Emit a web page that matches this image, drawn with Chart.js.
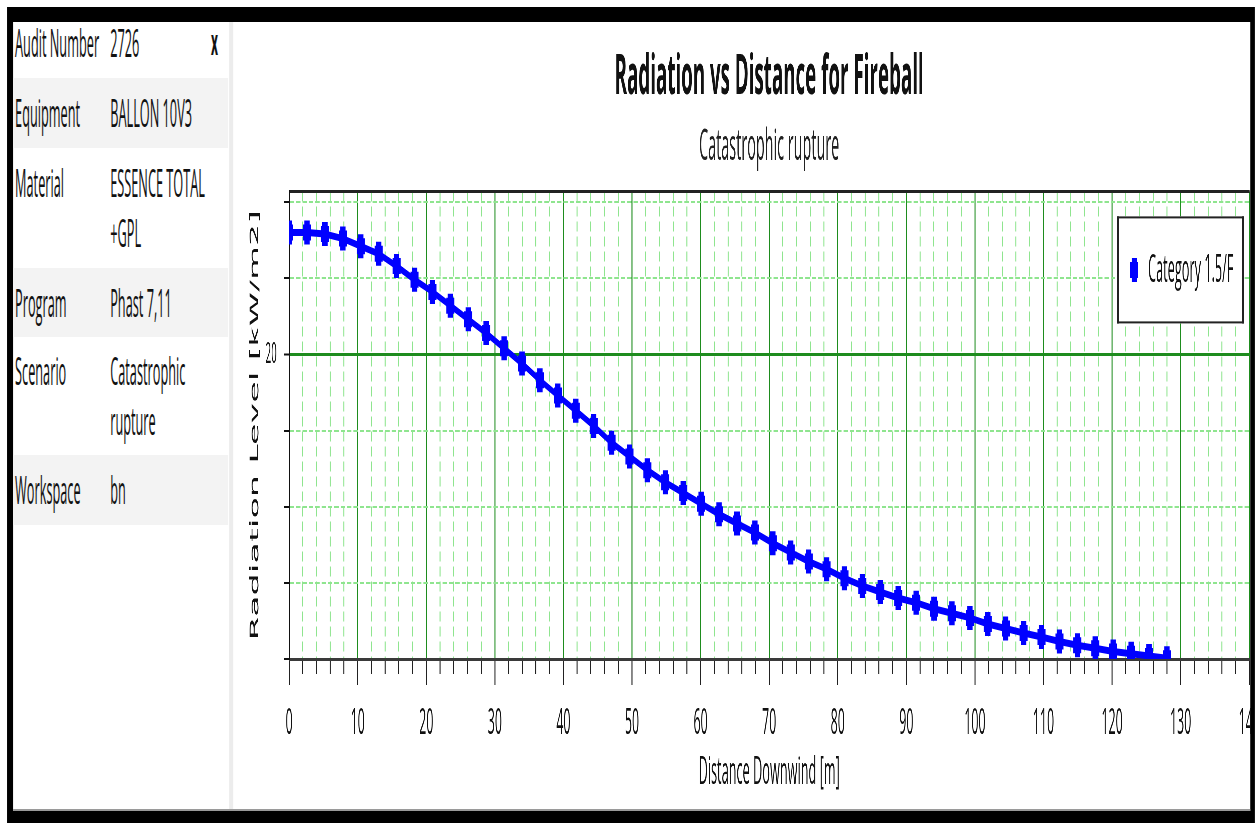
<!DOCTYPE html>
<html>
<head>
<meta charset="utf-8">
<title>Radiation vs Distance for Fireball</title>
<script src="https://cdn.jsdelivr.net/npm/chart.js@4.4.1/dist/chart.umd.min.js"></script>
<style>
  html, body { margin: 0; padding: 0; background: #fff; overflow: hidden; }
  /* the whole screenshot is horizontally squeezed, so lay out wide and squeeze */
  #page { position: absolute; left: 0; top: 0; width: 3746px; height: 823px;
          transform: scaleX(0.335); transform-origin: 0 0;
          font-family: "Open Sans", sans-serif; color: #111; }
  #frame { position: absolute; left: 21px; top: 7px; right: 0; bottom: 0; background: #000; }
  #inner { position: absolute; left: 39px; top: 22px; width: 3693px; height: 787px;
           background: #fff; border-bottom: 2px solid #9a9a9a; overflow: hidden; }
  .row { position: absolute; left: 0; width: 642px; background: #f3f3f3; }
  .txt { position: absolute; font-size: 38px; line-height: 50px; white-space: nowrap; }
  .lbl { left: 6px; }
  .val { left: 290px; }
  #close { left: 591px; font-weight: bold; font-size: 36px; }
  #sep { position: absolute; left: 645px; top: 0; width: 12px; height: 100%; background: #ececec; }
  #chartBox { position: absolute; left: 654px; top: 0; width: 3096px; height: 787px; }
</style>
</head>
<body>
<div id="page">
  <div id="frame"></div>
  <div id="inner">
    <div class="row" style="top:56px;height:70px"></div>
    <div class="row" style="top:246px;height:69px"></div>
    <div class="row" style="top:433px;height:70px"></div>

    <div class="txt lbl" style="top:-5px">Audit Number</div>
    <div class="txt val" style="top:-5px">2726</div>
    <div class="txt" id="close" style="top:-5px">x</div>

    <div class="txt lbl" style="top:65px">Equipment</div>
    <div class="txt val" style="top:65px">BALLON 10V3</div>

    <div class="txt lbl" style="top:135px">Material</div>
    <div class="txt val" style="top:135px">ESSENCE TOTAL<br>+GPL</div>

    <div class="txt lbl" style="top:255px">Program</div>
    <div class="txt val" style="top:255px">Phast 7,11</div>

    <div class="txt lbl" style="top:323px">Scenario</div>
    <div class="txt val" style="top:323px">Catastrophic<br>rupture</div>

    <div class="txt lbl" style="top:442px">Workspace</div>
    <div class="txt val" style="top:442px">bn</div>

    <div id="sep"></div>
    <div id="chartBox"><canvas id="chart"></canvas></div>
  </div>
</div>

<script>
// distance downwind [m]
const distance = [0, 2.61, 5.22, 7.84, 10.45, 13.06, 15.67, 18.29, 20.9, 23.51,
  26.12, 28.73, 31.35, 33.96, 36.57, 39.18, 41.8, 44.41, 47.02, 49.63,
  52.24, 54.86, 57.47, 60.08, 62.69, 65.31, 67.92, 70.53, 73.14, 75.76,
  78.37, 80.98, 83.59, 86.2, 88.82, 91.43, 94.04, 96.65, 99.27, 101.88,
  104.49, 107.1, 109.71, 112.33, 114.94, 117.55, 120.16, 122.78, 125.39, 128];

// radiation level [kW/m2]
const radiation = [28.0, 28.0, 27.9, 27.6, 27.1, 26.6, 25.8, 24.9, 24.1, 23.2,
  22.3, 21.4, 20.4, 19.4, 18.3, 17.3, 16.3, 15.3, 14.2, 13.3,
  12.4, 11.6, 10.9, 10.2, 9.5, 8.9, 8.3, 7.6, 7.0, 6.4,
  5.9, 5.3, 4.8, 4.4, 4.0, 3.7, 3.3, 3.0, 2.7, 2.3,
  2.0, 1.7, 1.45, 1.15, 0.9, 0.7, 0.5, 0.35, 0.2, 0.05];

const seriesName = 'Category 1.5/F';
const xLabelStep = 10;   // labelled x ticks
const yLabels = [20];    // only labelled y tick

const green = '#1e8c1e';
const lightGreen = '#8fe58f';

const legendBox = {
  id: 'legendBox',
  afterDraw(chart) {
    const { ctx, chartArea } = chart;
    const ds = chart.data.datasets[0];
    const w = 379, h = 107;
    const x = chartArea.right - 15 - w;
    const y = chartArea.top + 25;
    ctx.save();
    ctx.fillStyle = '#fff';
    ctx.fillRect(x, y, w, h);
    ctx.fillStyle = '#222';
    ctx.fillRect(x, y, w, 2);
    ctx.fillRect(x, y + h - 2, w, 2);
    ctx.fillRect(x, y, 6, h);
    ctx.fillRect(x + w - 6, y, 6, h);
    ctx.strokeStyle = ds.pointBorderColor;
    ctx.lineWidth = ds.pointBorderWidth;
    Chart.helpers.drawPoint(ctx, {
      pointStyle: ds.pointStyle, radius: ds.pointRadius,
      borderWidth: ds.pointBorderWidth, rotation: 0
    }, x + 51, y + h / 2);
    ctx.fillStyle = '#111';
    ctx.font = '38px "Open Sans"';
    ctx.textBaseline = 'middle';
    ctx.fillText(ds.label, x + 92, y + h / 2 + 1);
    ctx.restore();
  }
};

new Chart(document.getElementById('chart'), {
  type: 'line',
  data: {
    datasets: [{
      label: seriesName,
      data: distance.map((d, i) => ({ x: d, y: radiation[i] })),
      borderColor: '#0000ff',
      backgroundColor: '#0000ff',
      borderWidth: 7,
      tension: 0,
      pointStyle: 'cross',
      pointRadius: 12,
      pointBorderWidth: 16,
      pointBorderColor: '#0000ff'
    }]
  },
  options: {
    responsive: true,
    maintainAspectRatio: false,
    animation: false,
    layout: { padding: { left: 0, right: 60, top: 0, bottom: 0 } },
    plugins: {
      legend: { display: false },
      tooltip: { enabled: false },
      title: {
        display: true,
        fullSize: false,
        text: 'Radiation vs Distance for Fireball',
        color: '#111',
        font: { family: 'Open Sans', size: 56, weight: 'bold' },
        padding: { top: 22, bottom: 0 }
      },
      subtitle: {
        display: true,
        fullSize: false,
        text: 'Catastrophic rupture',
        color: '#222',
        font: { family: 'Open Sans', size: 43 },
        padding: { top: 11, bottom: 0 }
      }
    },
    scales: {
      x: {
        type: 'linear',
        position: 'bottom',
        min: 0,
        max: 140,
        afterFit: s => { s.height = 150; },
        border: {
          color: '#3a3a3a',
          width: 3,
          dash: c => (c.tick && c.tick.value % xLabelStep !== 0) ? [10, 5] : []
        },
        grid: {
          color: c => (c.tick && c.tick.value % xLabelStep === 0) ? green : lightGreen,
          lineWidth: 3,
          tickColor: '#222',
          tickWidth: 3,
          tickLength: 26,
          tickBorderDash: c => (c.tick && c.tick.value % xLabelStep === 0) ? [] : [13, 200]
        },
        ticks: {
          stepSize: 2,
          autoSkip: false,
          maxRotation: 0,
          minRotation: 0,
          color: '#111',
          padding: 16,
          font: { family: 'Open Sans', size: 37 },
          callback: v => v % xLabelStep === 0 ? v : ''
        },
        title: {
          display: true,
          text: 'Distance Downwind [m]',
          color: '#111',
          font: { family: 'Open Sans', size: 38 },
          padding: { top: 0, bottom: 13 }
        }
      },
      x2: {
        type: 'linear',
        position: 'top',
        min: 0,
        max: 140,
        afterFit: s => { s.height = 17.6; },
        grid: { drawOnChartArea: false, drawTicks: false },
        ticks: { display: false },
        border: { color: '#222', width: 3 }
      },
      y: {
        type: 'linear',
        min: 0,
        max: 30.7,
        afterFit: s => { s.width = 170; },
        border: {
          color: '#111',
          width: 3,
          dash: c => (c.tick && !yLabels.includes(c.tick.value)) ? [13, 6] : []
        },
        grid: {
          color: c => (c.tick && yLabels.includes(c.tick.value)) ? green : lightGreen,
          lineWidth: c => (c.tick && yLabels.includes(c.tick.value)) ? 3 : 2,
          tickColor: '#111',
          tickLength: 15,
          tickWidth: 2
        },
        ticks: {
          stepSize: 5,
          includeBounds: false,
          color: '#111',
          padding: 22,
          font: { family: 'Open Sans', size: 29 },
          callback: v => yLabels.includes(v) ? v : ''
        },
        title: {
          display: true,
          text: 'Radiation Level [kW/m2]',
          color: '#111',
          font: { family: 'DejaVu Sans', size: 35 },
          padding: { top: 48, bottom: 0 }
        }
      }
    }
  },
  plugins: [legendBox]
});
</script>
</body>
</html>
